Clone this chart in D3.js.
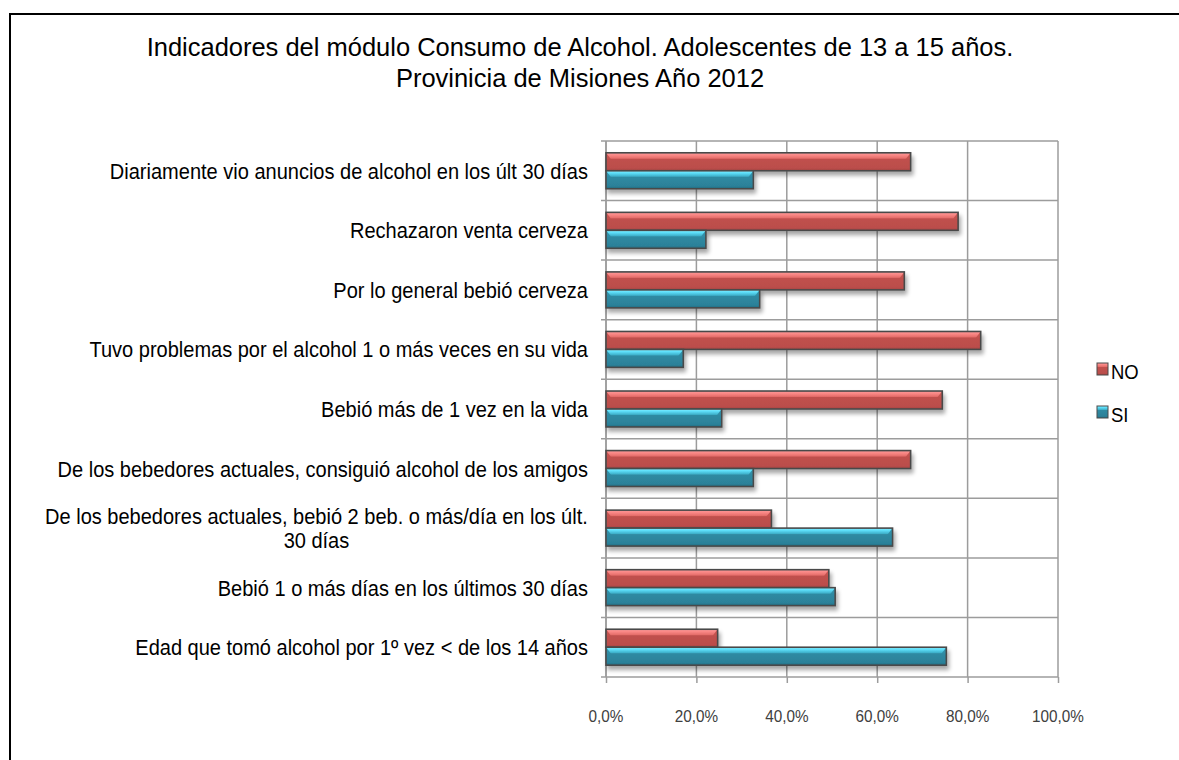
<!DOCTYPE html>
<html>
<head>
<meta charset="utf-8">
<script src="https://cdn.jsdelivr.net/npm/d3@7"></script>
<style>
  html, body { margin: 0; padding: 0; background: #fff; }
  svg { display: block; }
</style>
</head>
<body>
<svg id="chart" width="1179" height="760"></svg>
<script>
const titleLines = ["Indicadores del módulo Consumo de Alcohol. Adolescentes de 13 a 15 años.", "Provinicia de Misiones Año 2012"];
const categories = [
  "Diariamente vio anuncios de alcohol en los últ 30 días",
  "Rechazaron venta cerveza",
  "Por lo general bebió cerveza",
  "Tuvo problemas por el alcohol 1 o más veces en su vida",
  "Bebió más de 1 vez en la vida ",
  "De los bebedores actuales, consiguió alcohol de los amigos",
  "De los bebedores actuales, bebió 2 beb. o más/día en los últ.\n30 días",
  "Bebió 1 o más días en los últimos 30 días",
  "Edad que tomó alcohol por 1º vez < de los 14 años"
];
const seriesNames = ["NO", "SI"];
const valuesNO = [67.4, 77.9, 66.0, 82.9, 74.4, 67.4, 36.6, 49.3, 24.7];
const valuesSI = [32.6, 22.1, 34.0, 17.1, 25.6, 32.6, 63.4, 50.7, 75.3];
const tickValues = [0, 20, 40, 60, 80, 100];
const seriesMain = {NO: "#c0504d", SI: "#2f8aa2"};

const svg = d3.select("#chart");
const plotLeft = 606, plotRight = 1058, plotTop = 141, plotBottom = 677;
const FONT = "'Liberation Sans', Arial, sans-serif";

// defs
const defs = svg.append("defs");
function grad(id, stops) {
  const g = defs.append("linearGradient").attr("id", id).attr("x1", 0).attr("y1", 0).attr("x2", 0).attr("y2", 1);
  stops.forEach(s => g.append("stop").attr("offset", s[0]).attr("stop-color", s[1]));
}
grad("gNO", [[0, "#f79a9a"], [0.12, "#fb8a88"], [0.3, "#e66e6b"], [0.36, "#c0504d"], [0.85, "#bb4e4b"], [1, "#a44441"]]);
grad("gSI", [[0, "#8af0ff"], [0.12, "#5fe0fb"], [0.3, "#3fb2cc"], [0.36, "#2f8aa2"], [0.85, "#2c8199"], [1, "#226b7f"]]);
const f = defs.append("filter").attr("id", "shadow").attr("x", "-5%").attr("y", "-50%").attr("width", "115%").attr("height", "220%");
f.append("feGaussianBlur").attr("in", "SourceAlpha").attr("stdDeviation", 2.2).attr("result", "b");
f.append("feOffset").attr("in", "b").attr("dx", 2).attr("dy", 4).attr("result", "o");
f.append("feComponentTransfer").attr("in", "o").attr("result", "o2")
  .append("feFuncA").attr("type", "linear").attr("slope", 0.35);
const fm = f.append("feMerge");
fm.append("feMergeNode").attr("in", "o2");
fm.append("feMergeNode").attr("in", "SourceGraphic");

// outer border
svg.append("rect").attr("x", 10).attr("y", 14).attr("width", 1300).attr("height", 900)
  .attr("fill", "none").attr("stroke", "#000").attr("stroke-width", 2);

function squeezed(g, xPos, yPos, sx) {
  return g.append("g").attr("transform", `translate(${xPos},${yPos}) scale(${sx},1)`).append("text");
}

// title
const gt = svg.append("g").style("font-family", FONT).style("font-size", "26px").attr("fill", "#000");
titleLines.forEach((ln, i) => {
  squeezed(gt, 580, 56 + i * 31, 0.98).attr("text-anchor", "middle").text(ln);
});

const x = d3.scaleLinear().domain([0, 100]).range([plotLeft, plotRight]);
const y0 = d3.scaleBand().domain(categories).range([plotTop, plotBottom]).paddingInner(0).paddingOuter(0);
const y1 = d3.scaleBand().domain(seriesNames).range([0, y0.bandwidth()]).paddingInner(0).paddingOuter(0.656);

// gridlines
svg.append("g").selectAll("line").data(tickValues).join("line")
  .attr("x1", d => x(d)).attr("x2", d => x(d)).attr("y1", plotTop).attr("y2", plotBottom)
  .attr("stroke", "#9c9c9c").attr("stroke-width", 1.5);
const bandEdges = categories.map(c => y0(c));
svg.append("g").selectAll("line").data(bandEdges).join("line")
  .attr("x1", plotLeft - 5).attr("x2", plotRight).attr("y1", d => d).attr("y2", d => d)
  .attr("stroke", "#9c9c9c").attr("stroke-width", 1.5);
svg.append("line").attr("x1", plotLeft).attr("x2", plotLeft).attr("y1", plotTop).attr("y2", plotBottom)
  .attr("stroke", "#9c9c9c").attr("stroke-width", 1.5);

// x axis
const fmt = d3.formatLocale({decimal: ",", thousands: ".", grouping: [3], currency: ["", ""]}).format(".1f");
const xAxis = d3.axisBottom(x).tickValues(tickValues).tickSize(6).tickFormat("");
const gx = svg.append("g").attr("transform", `translate(0,${plotBottom})`).call(xAxis);
gx.select(".domain").attr("stroke", "#9c9c9c").attr("stroke-width", 1.5).attr("d", `M${plotLeft - 5},0H${plotRight}`);
gx.selectAll(".tick line").attr("stroke", "#9c9c9c").attr("stroke-width", 1.5);
const gtk = svg.append("g").style("font-family", FONT).style("font-size", "17px").attr("fill", "#404040");
tickValues.forEach(v => {
  squeezed(gtk, x(v), 722, 0.9).attr("text-anchor", "middle").text(fmt(v) + "%");
});

// bars
const data = categories.map((c, i) => ({cat: c, NO: valuesNO[i], SI: valuesSI[i]}));
const gBars = svg.append("g");
data.forEach(d => {
  seriesNames.forEach(s => {
    const bx = x(0), by = y0(d.cat) + y1(s), bw = x(d[s]) - x(0), bh = y1.bandwidth();
    const g = gBars.append("g").attr("filter", "url(#shadow)");
    g.append("rect")
      .attr("x", bx).attr("y", by).attr("width", bw).attr("height", bh)
      .attr("fill", `url(#g${s})`);
    // chamfered ends of the highlight band
    const hb = bh * 0.36, c = 5;
    g.append("path")
      .attr("d", `M${bx},${by}L${bx + c},${by + hb}L${bx},${by + hb}Z`)
      .attr("fill", seriesMain[s]).attr("opacity", 0.9);
    g.append("path")
      .attr("d", `M${bx + bw},${by}L${bx + bw - c},${by + hb}L${bx + bw},${by + hb}Z`)
      .attr("fill", seriesMain[s]).attr("opacity", 0.9);
    g.append("rect")
      .attr("x", bx).attr("y", by).attr("width", bw).attr("height", bh)
      .attr("fill", "none").attr("stroke", "#4a4a4a").attr("stroke-width", 1.6);
  });
});

// category labels
const LSX = 0.91;
const gl = svg.append("g").style("font-family", FONT).style("font-size", "22px").attr("fill", "#000");
categories.forEach(c => {
  const lines = c.split("\n");
  const cy = y0(c) + y0.bandwidth() / 2;
  const lh = 24;
  if (lines.length === 1) {
    squeezed(gl, 588, cy + 8, LSX).attr("text-anchor", "end").text(lines[0]);
  } else {
    const tmp = gl.append("text").text(lines[0]);
    const w = tmp.node().getComputedTextLength() * LSX;
    tmp.remove();
    const cx = 588 - w / 2;
    lines.forEach((ln, i) => {
      squeezed(gl, cx, cy + 8 + (i - (lines.length - 1) / 2) * lh, LSX).attr("text-anchor", "middle").text(ln);
    });
  }
});

// legend
const lg = svg.append("g").style("font-family", FONT).style("font-size", "21px").attr("fill", "#000");
const legendItems = [{name: "NO", y: 371}, {name: "SI", y: 414}];
legendItems.forEach(it => {
  lg.append("rect").attr("x", 1097).attr("y", it.y - 8).attr("width", 11).attr("height", 12)
    .attr("fill", `url(#g${it.name})`).attr("stroke", "#4a4a4a").attr("stroke-width", 1);
  squeezed(lg, 1111, it.y + 8, 0.88).text(it.name);
});
</script>
</body>
</html>
